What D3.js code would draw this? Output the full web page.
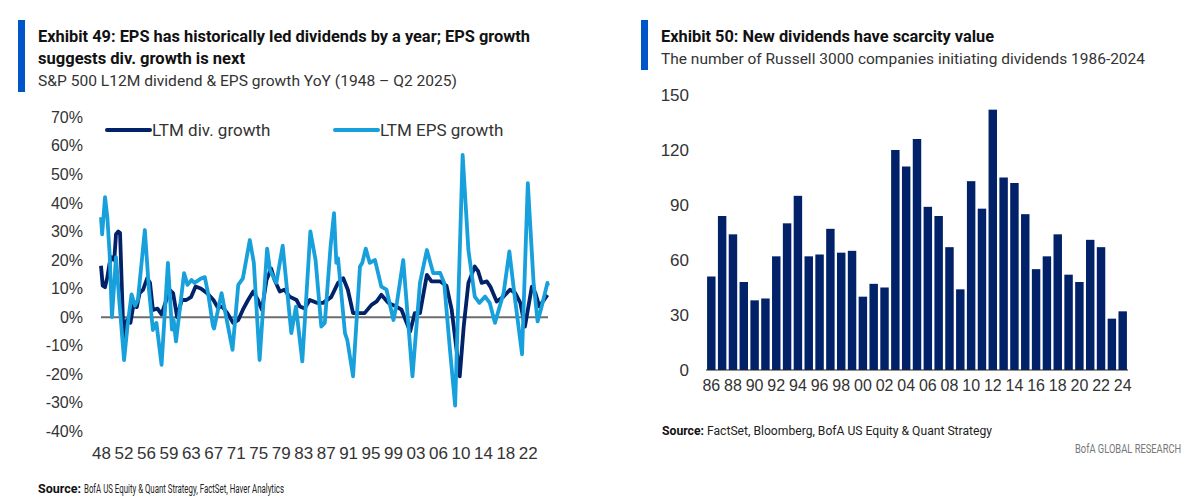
<!DOCTYPE html>
<html>
<head>
<meta charset="utf-8">
<script src="https://cdn.jsdelivr.net/npm/d3@7"></script>
<style>
  body { margin: 0; background: #fff; }
  svg { display: block; font-family: "Liberation Sans Narrow", "Roboto", "Open Sans", sans-serif; }
</style>
</head>
<body>
<div id="chart"></div>
<script>
// Exhibit 49 data: [year, % growth]
const divGrowth = [
  [1948.0, 18], [1948.3, 11], [1948.7, 10.5], [1949.1, 14], [1949.5, 19], [1949.9, 21],
  [1950.3, 20], [1950.6, 29], [1951.0, 30], [1951.3, 29.5], [1951.9, -7], [1952.5, -1],
  [1953.1, -2], [1953.6, 4], [1954.2, 3.5], [1954.7, 8.4], [1955.3, 9.6], [1956.0, 13.6],
  [1956.5, 12], [1957.0, 2.5], [1957.8, 3], [1958.5, 1], [1959.9, 9.5], [1960.5, 8.4],
  [1961.2, 0], [1962.0, 6], [1962.8, 6], [1963.6, 7], [1964.4, 10.7], [1965.3, 10],
  [1966.4, 8.4], [1967.5, 6], [1968.2, 3.5], [1969.0, 3.7], [1969.9, 1.4], [1970.9, -2],
  [1971.8, -1], [1972.6, 2.6], [1973.5, 6], [1974.4, 9], [1975.2, 6], [1975.9, 2.6],
  [1976.7, 13], [1977.5, 17], [1978.1, 13], [1979.0, 9], [1979.8, 9.6], [1980.7, 7.2],
  [1981.9, 6], [1982.5, 3.7], [1983.3, 3], [1984.2, 6], [1985.4, 5], [1986.5, 5],
  [1987.9, 7], [1989.1, 12], [1990.0, 13.6], [1990.8, 9.6], [1991.7, 1.4], [1993.7, 1.4],
  [1994.9, 4.3], [1995.8, 5.5], [1996.6, 7.8], [1997.8, 5], [1999.2, 3.7], [2000.1, 2.6],
  [2001.6, -5], [2002.4, 1.4], [2003.3, 1.4], [2004.5, 14.8], [2005.3, 12.5], [2006.8, 12.5],
  [2007.9, 11], [2008.8, 2.6], [2010.2, -20.7], [2010.9, -3], [2011.7, 12], [2012.8, 17.7],
  [2013.4, 16], [2014.0, 12], [2014.9, 12.5], [2015.5, 10.7], [2016.6, 5.5], [2017.8, 7.2],
  [2018.9, 9.6], [2019.8, 8.5], [2020.7, 5], [2021.5, -3.3], [2022.7, 10.7], [2023.3, 8.5],
  [2024.0, 3.7], [2025.4, 7.8]
];

const epsGrowth = [
  [1948.0, 35], [1948.2, 29], [1948.7, 42], [1949.1, 35], [1949.5, 22], [1949.9, 0],
  [1950.6, 21], [1951.2, 5], [1952.0, -15], [1952.6, -3], [1953.3, 8], [1953.9, 4],
  [1954.4, 6], [1955.6, 30.5], [1956.3, 10], [1957.0, -4.5], [1957.6, -2], [1958.5, -16.7],
  [1959.6, 19], [1960.3, -4.4], [1960.6, -1], [1961.0, -8.5], [1962.4, 15.4], [1963.0, 11.3],
  [1963.7, 13], [1964.2, 12], [1965.3, 13.5], [1966.0, 14], [1966.6, 8], [1967.4, -3],
  [1967.6, -4], [1968.9, 8.4], [1970.8, -11.4], [1971.8, 11.3], [1972.6, 13.6], [1973.8, 27],
  [1974.5, 19], [1975.5, -15], [1976.8, 24], [1977.3, 16.5], [1978.4, 12], [1979.5, 25],
  [1981.0, -5.6], [1981.8, 3.7], [1982.9, -15.5], [1984.3, 30], [1985.2, 20], [1986.2, -3.3],
  [1986.8, -2], [1987.8, 24.7], [1988.4, 36.4], [1988.8, 19], [1989.1, 20.6], [1990.3, -5.6],
  [1990.7, -8], [1991.7, -20.7], [1992.9, 17.7], [1993.3, 19], [1993.9, 24], [1994.6, 19],
  [1995.5, 20], [1996.6, 10.7], [1997.5, 9.6], [1998.7, -1], [1999.3, 5], [2000.4, 20],
  [2002.0, -20.7], [2003.3, 12], [2004.5, 23.5], [2005.6, 15.4], [2006.8, 15.5], [2007.5, 12],
  [2008.5, -11.4], [2009.4, -31], [2010.7, 56.8], [2011.7, 23.5], [2012.8, 7.2], [2013.6, 5],
  [2014.6, 7.2], [2015.4, 5], [2016.3, -2], [2017.8, 8.4], [2018.8, 23], [2019.8, 6],
  [2021.0, -13], [2022.0, 46.9], [2023.0, 12], [2023.7, -1.5], [2024.4, 3.7], [2025.4, 12],
  [2025.5, 11]
];

const lineXLabels = ["48","52","56","59","63","67","71","75","79","83","87","91","95","99","03","06","10","14","18","22"];
const lineYTicks = [70, 60, 50, 40, 30, 20, 10, 0, -10, -20, -30, -40];

// Exhibit 50 data
const initYears = d3.range(1986, 2025);
const initCounts = [51, 84, 74, 48, 38, 39, 62, 80, 95, 62, 63, 77, 64, 65, 40, 47, 45,
  120, 111, 126, 89, 84, 67, 44, 103, 88, 142, 105, 102, 85, 55, 62, 74, 52, 48, 71, 67, 28, 32];
const barYTicks = [0, 30, 60, 90, 120, 150];

const navy = "#012169", light = "#17a0dc", accent = "#0055c8";

const svg = d3.select("#chart").append("svg")
  .attr("width", 1201)
  .attr("height", 501);

// squeeze a text into a fixed width
function fitText(xPos, yPos, str, size, w, opts = {}) {
  return svg.append("text")
    .attr("x", xPos).attr("y", yPos)
    .attr("font-size", size)
    .attr("font-weight", opts.bold ? "bold" : "normal")
    .attr("fill", opts.fill || "#333")
    .attr("textLength", w).attr("lengthAdjust", "spacingAndGlyphs")
    .text(str);
}

// ---------- headers ----------
function header(x, barY2, lines) {
  svg.append("rect").attr("x", x).attr("y", 20).attr("width", 7).attr("height", barY2 - 20).attr("fill", accent);
  lines.forEach(l => fitText(x + 20, l.y, l.t, l.size, l.w, { bold: l.bold, fill: l.bold ? "#111" : "#333" }));
}
header(18, 92, [
  { t: "Exhibit 49: EPS has historically led dividends by a year; EPS growth", y: 42, size: 16, bold: true, w: 492 },
  { t: "suggests div. growth is next", y: 64, size: 16, bold: true, w: 207 },
  { t: "S&P 500 L12M dividend & EPS growth YoY (1948 \u2013 Q2 2025)", y: 86, size: 15, bold: false, w: 419 }
]);
header(641, 70, [
  { t: "Exhibit 50: New dividends have scarcity value", y: 42, size: 16, bold: true, w: 333 },
  { t: "The number of Russell 3000 companies initiating dividends 1986-2024", y: 64, size: 15, bold: false, w: 484 }
]);

// ---------- line chart ----------
const x = d3.scaleLinear().domain([1948, 2025.5]).range([101, 548]);
const y = d3.scaleLinear().domain([-40, 70]).range([431.4, 117.2]);

svg.append("g")
  .attr("transform", "translate(83,0)")
  .call(d3.axisLeft(y).tickValues(lineYTicks).tickFormat(d => d + "%").tickSize(0).tickPadding(0))
  .call(g => g.select(".domain").remove())
  .selectAll("text")
  .attr("font-size", 16).attr("fill", "#333").attr("font-family", null);

const tickStep = (2022 - 1948) / (lineXLabels.length - 1);
svg.append("g")
  .attr("transform", "translate(0,447)")
  .call(d3.axisBottom(x)
    .tickValues(lineXLabels.map((d, i) => 1948 + i * tickStep))
    .tickFormat((d, i) => lineXLabels[i])
    .tickSize(0).tickPadding(0))
  .call(g => g.select(".domain").remove())
  .selectAll("text")
  .attr("font-size", 17).attr("fill", "#333").attr("font-family", null);

svg.append("line")
  .attr("x1", x(1948)).attr("x2", x(2025.5))
  .attr("y1", y(0)).attr("y2", y(0))
  .attr("stroke", "#6d6d6d").attr("stroke-width", 2);

const line = d3.line().x(d => x(d[0])).y(d => y(d[1]));

svg.append("path").datum(divGrowth)
  .attr("fill", "none").attr("stroke", navy).attr("stroke-width", 3.8)
  .attr("stroke-linejoin", "round").attr("d", line);
svg.append("path").datum(epsGrowth)
  .attr("fill", "none").attr("stroke", light).attr("stroke-width", 3.8)
  .attr("stroke-linejoin", "round").attr("d", line);

// legend
const legend = [
  { label: "LTM div. growth", color: navy, x: 107 },
  { label: "LTM EPS growth", color: light, x: 335 }
];
legend.forEach(l => {
  svg.append("line").attr("x1", l.x).attr("x2", l.x + 43).attr("y1", 130).attr("y2", 130)
    .attr("stroke", l.color).attr("stroke-width", 4).attr("stroke-linecap", "round");
  svg.append("text").attr("x", l.x + 45).attr("y", 136)
    .attr("font-size", 17).attr("fill", "#333").text(l.label);
});

// ---------- bar chart ----------
const xb = d3.scaleBand().domain(initYears).range([706, 1128]).paddingInner(0.22).paddingOuter(0.1);
const yb = d3.scaleLinear().domain([0, 150]).range([370, 95]);

svg.append("g")
  .attr("transform", "translate(689,0)")
  .call(d3.axisLeft(yb).tickValues(barYTicks).tickSize(0).tickPadding(0))
  .call(g => g.select(".domain").remove())
  .selectAll("text")
  .attr("font-size", 17).attr("fill", "#333").attr("font-family", null);

svg.selectAll(".bar")
  .data(initYears)
  .enter().append("rect")
  .attr("x", d => xb(d))
  .attr("y", (d, i) => yb(initCounts[i]))
  .attr("width", xb.bandwidth())
  .attr("height", (d, i) => yb(0) - yb(initCounts[i]))
  .attr("fill", navy);

svg.append("line")
  .attr("x1", 706).attr("x2", 1128).attr("y1", yb(0)).attr("y2", yb(0))
  .attr("stroke", "#222").attr("stroke-width", 1.2);

svg.append("g")
  .attr("transform", "translate(0,380)")
  .call(d3.axisBottom(xb)
    .tickValues(initYears.filter((d, i) => i % 2 === 0))
    .tickFormat(d => String(d).slice(2))
    .tickSize(0).tickPadding(0))
  .call(g => g.select(".domain").remove())
  .selectAll("text")
  .attr("font-size", 16).attr("fill", "#333").attr("font-family", null);

// ---------- sources ----------
fitText(38, 493, "Source:", 12.5, 43, { bold: true, fill: "#111" });
fitText(84, 493, "BofA US Equity & Quant Strategy, FactSet, Haver Analytics", 12.5, 200, { fill: "#222" });
fitText(662, 435, "Source:", 12, 42, { bold: true, fill: "#111" });
fitText(707, 435, "FactSet, Bloomberg, BofA US Equity & Quant Strategy", 12, 285, { fill: "#222" });

// horizontally squeezed brand line, kept inside the page
svg.append("text")
  .attr("transform", "translate(1075,453) scale(0.78,1)")
  .attr("font-size", 12).attr("fill", "#777")
  .text("BofA GLOBAL RESEARCH");
</script>
</body>
</html>
